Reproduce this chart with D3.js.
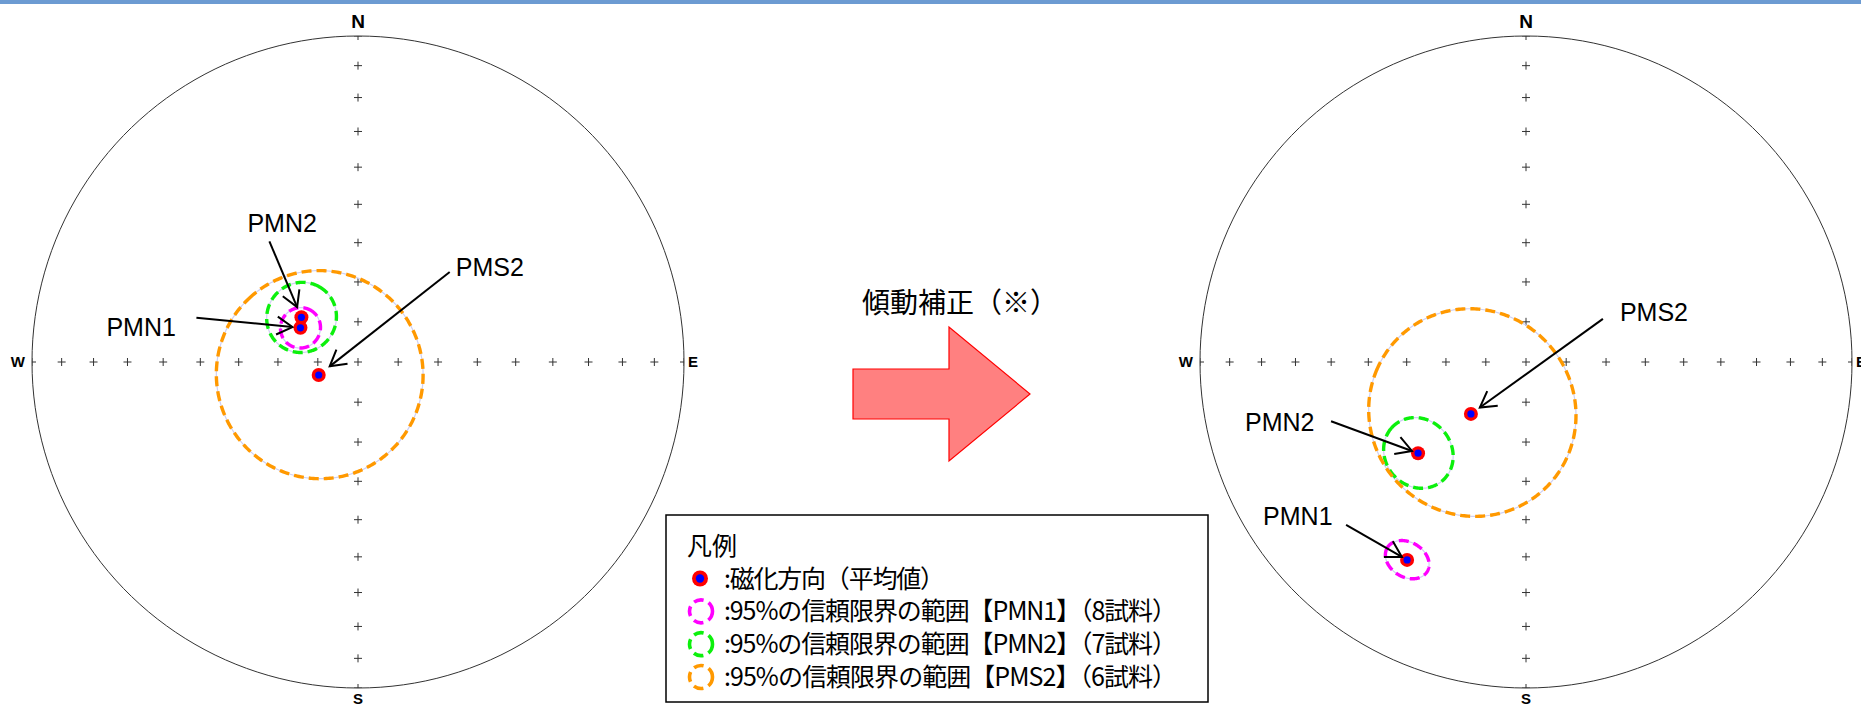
<!DOCTYPE html>
<html>
<head>
<meta charset="utf-8">
<script src="https://cdn.jsdelivr.net/npm/d3@7"></script>
<style>
  body { margin: 0; background: #fff; }
  svg { display: block; }
</style>
</head>
<body>
<svg id="chart" width="1861" height="706"></svg>
<script>
// sites and mean palaeomagnetic directions (deg)
const sites = ['PMN1', 'PMN2', 'PMS2'];
const sampleCounts = [8, 7, 6];
const decBefore = [300.7, 308.3, 251.7];   // before tilt correction
const incBefore = [73.3, 72.0, 79.7];
const decAfter = [211.0, 229.8, 226.7];    // after tilt correction
const incAfter = [29.9, 54.3, 71.1];
const a95 = [5.0, 8.7, 26.0];              // 95% confidence radius

// net grid
const tickIncs = [0, 10, 20, 30, 40, 50, 60, 70, 80];
const tickAzimuths = [0, 90, 180, 270];
const compassLabels = ['N', 'E', 'S', 'W'];

const circleColors = ['#ff00ff', '#0cf00c', '#ff9900'];
const legendTitle = '凡例';
const legendMeanText = ':磁化方向（平均値）';
const correctionText = '傾動補正（※）';

const svg = d3.select('#chart');
const W = 1861, H = 706;

svg.append('rect').attr('width', W).attr('height', H).attr('fill', '#fff');
svg.append('rect').attr('width', W).attr('height', 4).attr('fill', '#6c9bd2');

// layout of the two nets; label offsets are relative to the plotted point
const nets = [
  {
    id: 'before', cx: 358, cy: 362, r: 326, dec: decBefore, inc: incBefore,
    labels: [
      { text: [-194, -1], tail: [-104, -10], gap: 8 },
      { text: [-54, -94], tail: [-32, -76], gap: 11 },
      { text: [137, -108], tail: [131, -103], gap: 14 }
    ]
  },
  {
    id: 'after', cx: 1526, cy: 362, r: 326, dec: decAfter, inc: incAfter,
    labels: [
      { text: [-144, -44], tail: [-61, -35], gap: 6 },
      { text: [-173, -31], tail: [-87, -32], gap: 6.5 },
      { text: [149, -102], tail: [132, -95], gap: 11 }
    ]
  }
];

// declination clockwise from north -> longitude on a pole-centred projection
const toGeo = (dec, inc) => [180 - dec, inc];

function drawArrow(g, x1, y1, x2, y2) {
  const ang = Math.atan2(y1 - y2, x1 - x2);
  const L = 18, spread = Math.PI / 6;
  g.append('line')
    .attr('x1', x1).attr('y1', y1).attr('x2', x2).attr('y2', y2)
    .attr('stroke', '#000').attr('stroke-width', 2);
  const p = d3.path();
  p.moveTo(x2 + L * Math.cos(ang + spread), y2 + L * Math.sin(ang + spread));
  p.lineTo(x2, y2);
  p.lineTo(x2 + L * Math.cos(ang - spread), y2 + L * Math.sin(ang - spread));
  g.append('path').attr('d', p.toString())
    .attr('fill', 'none').attr('stroke', '#000').attr('stroke-width', 2);
}

nets.forEach(net => {
  const proj = d3.geoAzimuthalEqualArea()
    .rotate([0, -90])
    .clipAngle(90)
    .scale(net.r / Math.SQRT2)
    .translate([net.cx, net.cy]);
  const path = d3.geoPath(proj);

  const g = svg.append('g').attr('id', 'net-' + net.id);

  g.append('clipPath').attr('id', 'clip-' + net.id)
    .append('path').attr('d', path({ type: 'Sphere' }));

  // primitive circle
  g.append('path')
    .attr('d', path({ type: 'Sphere' }))
    .attr('fill', 'none').attr('stroke', '#333').attr('stroke-width', 1);

  // ticks along the four axes
  const ticks = [];
  tickAzimuths.forEach(az => tickIncs.forEach(inc => ticks.push(proj(toGeo(az, inc)))));
  ticks.push(proj(toGeo(0, 90)));
  const tg = g.append('g').attr('clip-path', `url(#clip-${net.id})`);
  tg.selectAll('path.tick').data(ticks).enter().append('path')
    .attr('class', 'tick')
    .attr('d', d => `M${d[0] - 4},${d[1]}H${d[0] + 4}M${d[0]},${d[1] - 4}V${d[1] + 4}`)
    .attr('stroke', '#333').attr('stroke-width', 1).attr('fill', 'none');

  // compass letters
  const edge = tickAzimuths.map(az => proj(toGeo(az, 0)));
  const lab = g.append('g').attr('font-family', '"Liberation Sans", Arial, sans-serif')
    .attr('font-weight', 'bold').attr('fill', '#000');
  lab.append('text').attr('x', edge[0][0]).attr('y', edge[0][1] - 15).attr('dy', '0.35em')
    .attr('text-anchor', 'middle').attr('font-size', 19).text(compassLabels[0]);
  lab.append('text').attr('x', edge[1][0] + 4).attr('y', edge[1][1]).attr('dy', '0.36em')
    .attr('text-anchor', 'start').attr('font-size', 15).text(compassLabels[1]);
  lab.append('text').attr('x', edge[2][0]).attr('y', edge[2][1] + 11).attr('dy', '0.36em')
    .attr('text-anchor', 'middle').attr('font-size', 15).text(compassLabels[2]);
  lab.append('text').attr('x', edge[3][0] - 7).attr('y', edge[3][1]).attr('dy', '0.36em')
    .attr('text-anchor', 'end').attr('font-size', 15).text(compassLabels[3]);

  // a95 circles
  const circles = sites.map((s, i) =>
    d3.geoCircle().center(toGeo(net.dec[i], net.inc[i])).radius(a95[i]).precision(1)());
  g.selectAll('path.a95-under').data(circles).enter().append('path')
    .attr('class', 'a95-under').attr('d', path)
    .attr('fill', 'none').attr('stroke', '#cfd0f2').attr('stroke-width', 1.2);
  g.selectAll('path.a95').data(circles).enter().append('path')
    .attr('class', 'a95').attr('d', path)
    .attr('fill', 'none')
    .attr('stroke', (d, i) => circleColors[i])
    .attr('stroke-width', 3.4)
    .attr('stroke-dasharray', '10,5');

  // mean directions
  const pts = sites.map((s, i) => proj(toGeo(net.dec[i], net.inc[i])));
  g.selectAll('circle.outer').data(pts).enter().append('circle')
    .attr('class', 'outer').attr('cx', d => d[0]).attr('cy', d => d[1]).attr('r', 7)
    .attr('fill', '#ff0000');
  g.selectAll('circle.inner').data(pts).enter().append('circle')
    .attr('class', 'inner').attr('cx', d => d[0]).attr('cy', d => d[1]).attr('r', 3.6)
    .attr('fill', '#0000ff');

  // site labels with arrows
  pts.forEach((p, i) => {
    const L = net.labels[i];
    const tx = p[0] + L.tail[0], ty = p[1] + L.tail[1];
    const d = Math.hypot(tx - p[0], ty - p[1]);
    const hx = p[0] + (tx - p[0]) / d * L.gap, hy = p[1] + (ty - p[1]) / d * L.gap;
    drawArrow(g, tx, ty, hx, hy);
    g.append('text')
      .attr('x', p[0] + L.text[0]).attr('y', p[1] + L.text[1]).attr('dy', '0.36em')
      .attr('font-family', '"Liberation Sans", Arial, sans-serif')
      .attr('font-size', 25).attr('fill', '#000')
      .text(sites[i]);
  });
});

// tilt correction arrow
svg.append('text')
  .attr('x', 862).attr('y', 303).attr('dy', '0.36em')
  .attr('font-family', '"Noto Sans CJK JP", sans-serif')
  .attr('font-size', 28).attr('fill', '#000')
  .text(correctionText);

const bigArrow = [[853, 369], [949, 369], [949, 327], [1030, 394], [949, 461], [949, 419], [853, 419]];
svg.append('path')
  .attr('d', d3.line()(bigArrow) + 'Z')
  .attr('fill', '#ff8080').attr('stroke', '#ff0000').attr('stroke-width', 1.2);

// legend
const lg = svg.append('g').attr('id', 'legend');
lg.append('rect').attr('x', 666).attr('y', 515).attr('width', 542).attr('height', 187)
  .attr('fill', '#fff').attr('stroke', '#000').attr('stroke-width', 1.5);
const lf = '"Noto Sans CJK JP", sans-serif';
lg.append('text').attr('x', 687).attr('y', 546).attr('dy', '0.36em')
  .attr('font-family', lf).attr('font-size', 25).text(legendTitle);

const rowY = d3.scalePoint().domain(d3.range(4)).range([578.5, 677]);
lg.append('circle').attr('cx', 700).attr('cy', rowY(0)).attr('r', 8).attr('fill', '#ff0000');
lg.append('circle').attr('cx', 700).attr('cy', rowY(0)).attr('r', 4.2).attr('fill', '#0000ff');
lg.append('text').attr('x', 724).attr('y', rowY(0)).attr('dy', '0.36em')
  .attr('font-family', lf).attr('font-size', 25)
  .attr('textLength', 221).attr('lengthAdjust', 'spacing')
  .text(legendMeanText);

sites.forEach((s, i) => {
  const y = rowY(i + 1);
  lg.append('circle').attr('cx', 701).attr('cy', y).attr('r', 11.5)
    .attr('fill', 'none').attr('stroke', circleColors[i])
    .attr('stroke-width', 3.6).attr('stroke-dasharray', '10,5.5');
  lg.append('text').attr('x', 724).attr('y', y).attr('dy', '0.36em')
    .attr('font-family', lf).attr('font-size', 25)
    .attr('textLength', 453).attr('lengthAdjust', 'spacing')
    .text(`:95%の信頼限界の範囲【${s}】（${sampleCounts[i]}試料）`);
});
</script>
</body>
</html>
